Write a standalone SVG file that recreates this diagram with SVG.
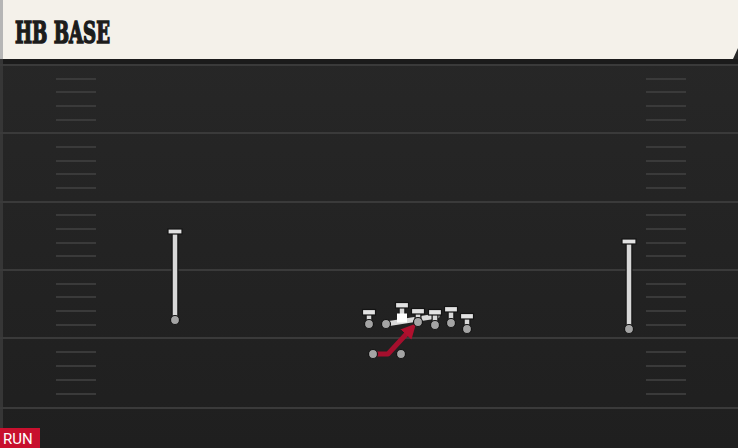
<svg xmlns="http://www.w3.org/2000/svg" width="738" height="448" viewBox="0 0 738 448">
<defs>
<linearGradient id="field" x1="0" y1="0" x2="0" y2="1">
<stop offset="0" stop-color="#282828"/>
<stop offset="1" stop-color="#1f1f1f"/>
</linearGradient>
<marker id="arrRed" viewBox="0 0 10 10" refX="5" refY="5" markerWidth="3" markerHeight="3" orient="auto" markerUnits="strokeWidth">
<path d="M0,0 L10,5 L0,10 Z" fill="#b0102e"/>
</marker>
</defs>
<style>
.yard{stroke:#3a3a3a;stroke-width:2}
.hash{stroke:#3a3a3a;stroke-width:2}
.stem{stroke:#141414;stroke-width:7}
.stemIn{stroke:#d8d8d8;stroke-width:4.5}
.bar{fill:#e2e2e2;stroke:#141414;stroke-width:1.2}
.dot{fill:#a4a4a4;stroke:#141414;stroke-width:1.2}
.route{fill:none;stroke:#a50f2d;stroke-width:5;stroke-linejoin:round}
.block{fill:none;stroke:#dadada;stroke-width:5;stroke-linecap:round}
</style>
<rect x="0" y="0" width="738" height="448" fill="url(#field)"/>
<rect x="0" y="59" width="738" height="6" fill="#1b1b1b"/>
<rect x="0" y="59" width="3" height="389" fill="#363636"/>
<g id="yardlines">
<line class="yard" x1="0" y1="65" x2="738" y2="65"/>
<line class="yard" x1="0" y1="133" x2="738" y2="133"/>
<line class="yard" x1="0" y1="202" x2="738" y2="202"/>
<line class="yard" x1="0" y1="270" x2="738" y2="270"/>
<line class="yard" x1="0" y1="338" x2="738" y2="338"/>
<line class="yard" x1="0" y1="408" x2="738" y2="408"/>
</g>
<g id="hashes">
<path class="hash" d="M56 79H96M56 92H96M56 106H96M56 120H96M56 147H96M56 161H96M56 174H96M56 188H96M56 215H96M56 229H96M56 243H96M56 256H96M56 284H96M56 297H96M56 311H96M56 325H96M56 352H96M56 366H96M56 380H96M56 394H96"/>
<path class="hash" d="M646 79H686M646 92H686M646 106H686M646 120H686M646 147H686M646 161H686M646 174H686M646 188H686M646 215H686M646 229H686M646 243H686M646 256H686M646 284H686M646 297H686M646 311H686M646 325H686M646 352H686M646 366H686M646 380H686M646 394H686"/>
</g>
<g id="header">
<polygon points="3,0 738,0 738,48 733,59 3,59" fill="#f4f1ea"/>
<rect x="0" y="0" width="3" height="59" fill="#b5b5b5"/>
<text x="15" y="43" font-family="'DejaVu Serif', serif" font-weight="bold" font-size="29" fill="#1c1c1c" stroke="#1c1c1c" stroke-width="1.6" textLength="95" lengthAdjust="spacingAndGlyphs">HB BASE</text>
</g>
<g id="connectors">
<polyline class="route" points="373,354 388,354 411,329" marker-end="url(#arrRed)"/>
<line class="block" x1="386" y1="324" x2="437" y2="316"/>
</g>
<g id="wr-left">
<line class="stem" x1="175" y1="233" x2="175" y2="320"/>
<line class="stemIn" x1="175" y1="233" x2="175" y2="320"/>
<rect class="bar" x="168" y="229" width="14" height="5"/>
<circle class="dot" cx="175" cy="320" r="4.5"/>
</g>
<g id="wr-right">
<line class="stem" x1="629" y1="243" x2="629" y2="329"/>
<line class="stemIn" x1="629" y1="243" x2="629" y2="329"/>
<rect class="bar" x="622" y="239" width="14" height="5"/>
<circle class="dot" cx="629" cy="329" r="4.5"/>
</g>
<g id="te-left">
<line class="stem" x1="369" y1="314" x2="369" y2="323"/>
<line class="stemIn" x1="369" y1="314" x2="369" y2="323"/>
<rect class="bar" x="362.5" y="309.5" width="13" height="5.5"/>
<circle class="dot" cx="369" cy="324" r="4.5"/>
</g>
<g id="lt">
<circle class="dot" cx="386" cy="324" r="4.5"/>
</g>
<g id="center">
<line class="stem" x1="402" y1="307" x2="402" y2="316"/>
<line class="stemIn" x1="402" y1="307" x2="402" y2="316"/>
<rect class="bar" x="395.5" y="302.5" width="13" height="5.5"/>
<rect x="397" y="313.5" width="10" height="9" fill="#ffffff"/>
</g>
<g id="rg">
<line class="stem" x1="418" y1="313" x2="418" y2="321"/>
<line class="stemIn" x1="418" y1="313" x2="418" y2="321"/>
<rect class="bar" x="411.5" y="308.5" width="13" height="5.5"/>
<circle class="dot" cx="418" cy="322" r="4.5"/>
</g>
<g id="rt">
<line class="stem" x1="435" y1="314" x2="435" y2="324"/>
<line class="stemIn" x1="435" y1="314" x2="435" y2="324"/>
<rect class="bar" x="428.5" y="309.5" width="13" height="5.5"/>
<circle class="dot" cx="435" cy="325" r="4.5"/>
</g>
<g id="te-right">
<line class="stem" x1="451" y1="311" x2="451" y2="322"/>
<line class="stemIn" x1="451" y1="311" x2="451" y2="322"/>
<rect class="bar" x="444.5" y="306.5" width="13" height="5.5"/>
<circle class="dot" cx="451" cy="323" r="4.5"/>
</g>
<g id="slot">
<line class="stem" x1="467" y1="318" x2="467" y2="328"/>
<line class="stemIn" x1="467" y1="318" x2="467" y2="328"/>
<rect class="bar" x="460.5" y="313.5" width="13" height="5.5"/>
<circle class="dot" cx="467" cy="329" r="4.5"/>
</g>
<g id="hb">
<circle class="dot" cx="373" cy="354" r="4.5"/>
</g>
<g id="fb">
<circle class="dot" cx="401" cy="354" r="4.5"/>
</g>
<g id="tag">
<rect x="0" y="428" width="40" height="20" fill="#c8102e"/>
<text x="3" y="444" font-family="Roboto, 'Liberation Sans', sans-serif" font-size="15" fill="#ffffff">RUN</text>
</g>
</svg>
